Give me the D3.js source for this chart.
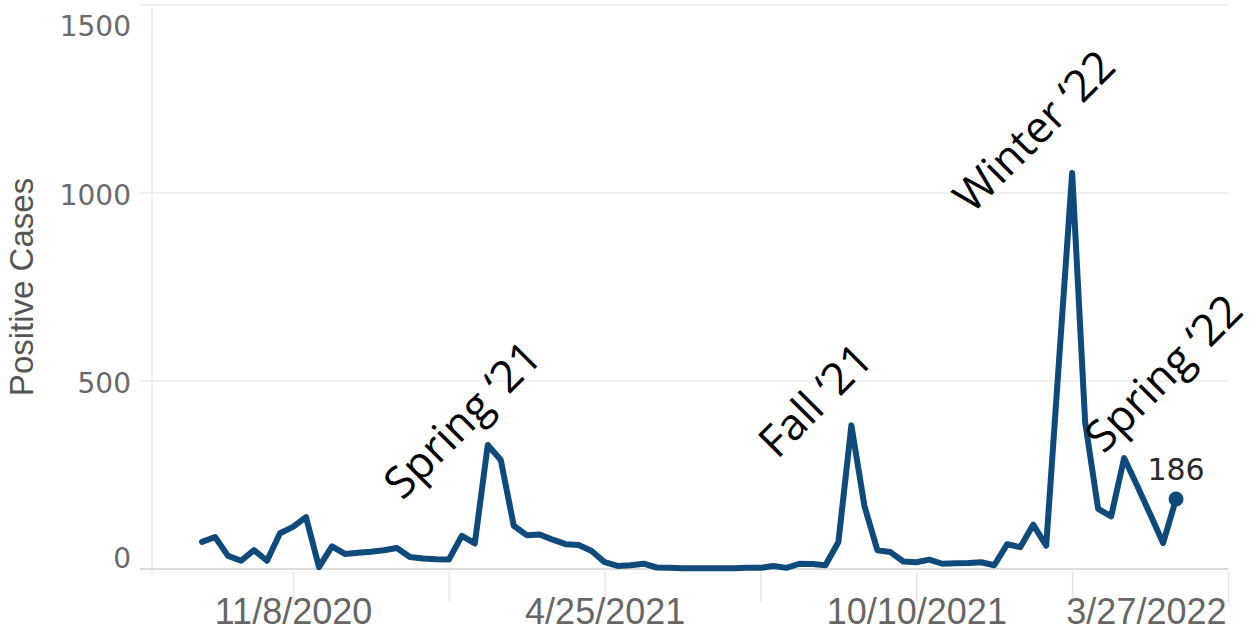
<!DOCTYPE html>
<html>
<head>
<meta charset="utf-8">
<script src="https://cdn.jsdelivr.net/npm/d3@7"></script>
<style>
  html, body { margin: 0; padding: 0; background: #fff; }
  svg { display: block; }
</style>
</head>
<body>
<svg id="chart" width="1254" height="638"></svg>
<script>
// ---- data ----
const weekDates = [
  "2020-09-20","2020-09-27","2020-10-04","2020-10-11","2020-10-18","2020-10-25","2020-11-01",
  "2020-11-08","2020-11-15","2020-11-22","2020-11-29","2020-12-06","2020-12-13","2020-12-20","2020-12-27",
  "2021-01-03","2021-01-10","2021-01-17","2021-01-24","2021-01-31","2021-02-07","2021-02-14","2021-02-21",
  "2021-02-28","2021-03-07","2021-03-14","2021-03-21","2021-03-28","2021-04-04","2021-04-11","2021-04-18",
  "2021-04-25","2021-05-02","2021-05-09","2021-05-16","2021-05-23","2021-05-30","2021-06-06","2021-06-13",
  "2021-06-20","2021-06-27","2021-07-04","2021-07-11","2021-07-18","2021-07-25","2021-08-01","2021-08-08",
  "2021-08-15","2021-08-22","2021-08-29","2021-09-05","2021-09-12","2021-09-19","2021-09-26","2021-10-03",
  "2021-10-10","2021-10-17","2021-10-24","2021-10-31","2021-11-07","2021-11-14","2021-11-21","2021-11-28",
  "2021-12-05","2021-12-12","2021-12-19","2021-12-26","2022-01-02","2022-01-09","2022-01-16","2022-01-23",
  "2022-01-30","2022-02-06","2022-02-13","2022-02-20","2022-02-27"
];
const positiveCases = [
  72, 85, 35, 22, 50, 22, 95,
  112, 138, 5, 60, 40, 43, 46, 50,
  56, 32, 28, 26, 25, 88, 68, 330,
  290, 115, 90, 92, 78, 66, 64, 48,
  18, 8, 10, 14, 4, 3, 2, 2,
  2, 2, 2, 3, 3, 8, 3, 14,
  13, 10, 72, 382, 168, 50, 45, 20,
  18, 25, 14, 15, 16, 18, 10, 66,
  58, 118, 62, 560, 1053, 390, 160, 140,
  295, 222, 146, 69, 186
];
const yTicks = [0, 500, 1000, 1500];
const xTickDates = ["2020-11-08","2021-01-31","2021-04-25","2021-07-18","2021-10-10","2022-01-02","2022-03-27"];
const xTickLabels = ["11/8/2020", "", "4/25/2021", "", "10/10/2021", "", "3/27/2022"];
const xDomain = ["2020-08-24", "2022-03-27"];
const annotations = [
  { text: "Spring \u201821", date: "2021-01-06", value: 180 },
  { text: "Fall \u201821",   date: "2021-07-27", value: 290 },
  { text: "Winter \u201822", date: "2021-11-09", value: 942 },
  { text: "Spring \u201822", date: "2022-01-19", value: 304 }
];
const yTitle = "Positive Cases";

(function () {
  const parse = d3.utcParse("%Y-%m-%d");
  const data = weekDates.map((d, i) => ({ date: parse(d), value: positiveCases[i] }));

  const svg = d3.select("#chart");
  const mLeft = 152, mRight = 1228, mTop = 5, mBottom = 569;

  const x = d3.scaleUtc().domain(xDomain.map(parse)).range([mLeft, mRight]);
  const y = d3.scaleLinear().domain([0, 1500]).range([mBottom, mTop]);

  // gridlines
  svg.append("g").selectAll("line").data(yTicks.filter(v => v > 0)).join("line")
    .attr("x1", 140).attr("x2", mRight)
    .attr("y1", d => y(d)).attr("y2", d => y(d))
    .attr("stroke", "#ececec").attr("stroke-width", 1.5);

  // left border
  svg.append("line").attr("x1", mLeft).attr("x2", mLeft).attr("y1", mTop).attr("y2", mBottom + 6)
    .attr("stroke", "#ececec").attr("stroke-width", 1.5);

  // zero line
  svg.append("line").attr("x1", 140).attr("x2", mRight).attr("y1", y(0)).attr("y2", y(0))
    .attr("stroke", "#dcdcdc").attr("stroke-width", 2);

  // x axis
  const xAxis = d3.axisBottom(x)
    .tickValues(xTickDates.map(parse))
    .tickSize(30)
    .tickFormat((d, i) => xTickLabels[i]);
  const gx = svg.append("g").attr("transform", `translate(0,${mBottom + 3})`).call(xAxis);
  gx.select(".domain").remove();
  gx.selectAll(".tick line").attr("stroke", "#e6e6e6").attr("stroke-width", 1.5);
  gx.selectAll(".tick text")
    .attr("y", 52).attr("dy", 0)
    .attr("fill", "#666")
    .style("font-family", "'Liberation Sans', Arial, sans-serif")
    .style("font-size", "36px")
    .attr("text-anchor", (d, i) => i === xTickLabels.length - 1 ? "end" : "middle")
    .attr("dx", (d, i) => i === xTickLabels.length - 1 ? -2 : 0);

  // y axis
  const yAxis = d3.axisLeft(y).tickValues(yTicks).tickSize(0).tickPadding(0).tickFormat(d3.format("d"));
  const gy = svg.append("g").attr("transform", `translate(131,0)`).call(yAxis);
  gy.select(".domain").remove();
  gy.selectAll(".tick text")
    .attr("fill", "#6a6a6a")
    .style("font-family", "'DejaVu Sans', Verdana, sans-serif")
    .style("font-size", "28px")
    .attr("dy", d => d === 1500 ? "1.1em" : d === 0 ? "-0.05em" : "0.4em");

  // y title
  svg.append("text")
    .attr("transform", `translate(33,287) rotate(-90)`)
    .attr("text-anchor", "middle")
    .attr("fill", "#555")
    .style("font-family", "'Liberation Sans', Arial, sans-serif")
    .style("font-size", "33px")
    .text(yTitle);

  // line
  const line = d3.line().x(d => x(d.date)).y(d => y(d.value));
  svg.append("path").datum(data)
    .attr("d", line)
    .attr("fill", "none")
    .attr("stroke", "#0f4a7c")
    .attr("stroke-width", 6)
    .attr("stroke-linejoin", "round")
    .attr("stroke-linecap", "round");

  // last point marker + label
  const last = data[data.length - 1];
  svg.append("circle").attr("cx", x(last.date)).attr("cy", y(last.value)).attr("r", 7.5).attr("fill", "#0f4a7c");
  svg.append("text")
    .attr("x", x(last.date)).attr("y", y(last.value) - 19)
    .attr("text-anchor", "middle")
    .attr("fill", "#2a2a2a")
    .style("font-family", "'DejaVu Sans', Verdana, sans-serif")
    .style("font-size", "30px")
    .text(d3.format("d")(last.value));

  // annotations
  svg.append("g").selectAll("text").data(annotations).join("text")
    .attr("transform", d => `translate(${x(parse(d.date))},${y(d.value)}) rotate(-45)`)
    .attr("fill", "#000")
    .style("font-family", "'Open Sans', sans-serif")
    .style("font-size", "44px")
    .text(d => d.text);
})();
</script>
</body>
</html>
